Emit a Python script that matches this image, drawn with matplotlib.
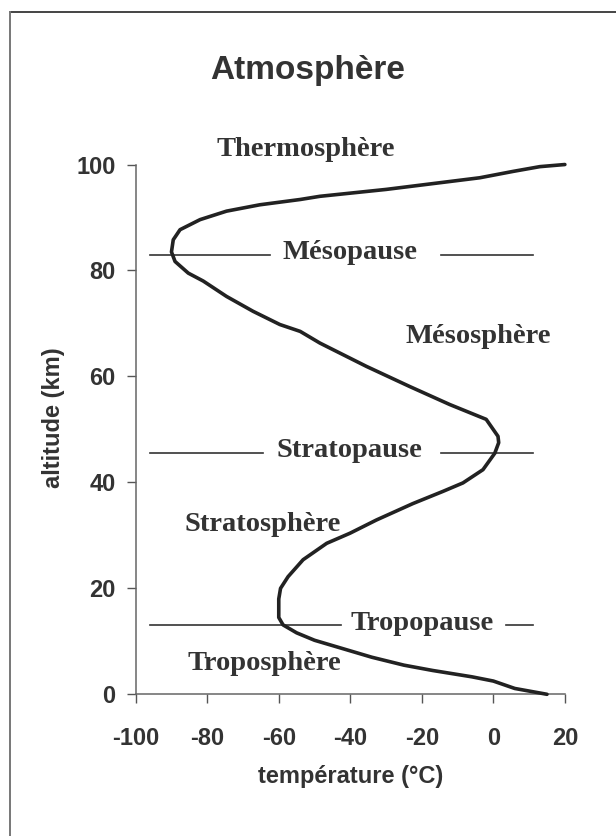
import matplotlib
matplotlib.use("Agg")
import matplotlib.pyplot as plt
from matplotlib.lines import Line2D

# temperature profile (degC) vs altitude (km)
temperature = [15, 6, 0, -6, -17, -25, -34, -42, -50, -55, -58.8, -60, -60, -59.5,
               -57.4, -53.2, -46.6, -40.1, -32.7, -22.5, -14.1, -8.5, -2.9, 0.4, 1.5,
               1.3, -2, -12.2, -23.4, -35.5, -48.5, -54, -59.7, -67.2, -74.6, -81.1,
               -85.3, -89, -90, -89.5, -87.6, -82, -74.6, -65.3, -54, -48.5, -30,
               -3.8, 5.5, 13, 20]
altitude = [0, 1.1, 2.5, 3.3, 4.5, 5.5, 7, 8.6, 10.2, 11.6, 13.1, 14.5, 18, 20,
            22.2, 25.4, 28.5, 30.4, 32.9, 36, 38.3, 39.9, 42.4, 45.5, 47.5,
            48.7, 51.9, 54.7, 58.1, 61.9, 66.3, 68.5, 69.8, 72.3, 75.1, 78,
            79.5, 81.7, 83.5, 85.8, 87.7, 89.6, 91.2, 92.4, 93.4, 94, 95.3,
            97.5, 98.7, 99.6, 100]

# boundaries: name, altitude, left segment, right segment, label x
pause_names = ['Mésopause', 'Stratopause', 'Tropopause']
pause_alt = [83, 45.5, 13]
pause_left = [(-96, -62.5), (-96, -64.4), (-96, -42.5)]
pause_right = [(-14.5, 11), (-14.5, 11), (3.6, 11)]
pause_label_x = [-40.1, -40.1, -19.9]

layer_names = ['Thermosphère', 'Mésosphère', 'Stratosphère', 'Troposphère']
layer_x = [-52.5, -4.3, -64.6, -63.9]
layer_y = [102.8, 67.6, 32, 5.8]

xticks = [-100, -80, -60, -40, -20, 0, 20]
yticks = [0, 20, 40, 60, 80, 100]

sans = ['Liberation Sans', 'DejaVu Sans']
serif = ['Liberation Serif', 'DejaVu Serif']

fig = plt.figure(figsize=(6.16, 8.36), dpi=100)
ax = fig.add_axes([0.2203, 0.1695, 0.917 - 0.2203, 0.8032 - 0.1695])

ax.plot(temperature, altitude, color='#222222', lw=2.6, zorder=3,
        solid_capstyle='round', clip_on=False)

for name, y, left, right, lx in zip(pause_names, pause_alt, pause_left,
                                    pause_right, pause_label_x):
    ax.plot(left, [y, y], color='#333333', lw=1.2, zorder=2)
    ax.plot(right, [y, y], color='#333333', lw=1.2, zorder=2)
    ax.text(lx, y - 0.8, name, ha='center', va='baseline', fontsize=20.5,
            fontweight='bold', family=serif, color='#333333')

for name, x, y in zip(layer_names, layer_x, layer_y):
    ax.text(x, y, name, ha='center', va='center', fontsize=20.5,
            fontweight='bold', family=serif, color='#333333', clip_on=False)

ax.set_xlim(-100, 20)
ax.set_ylim(0, 100)
ax.set_xticks(xticks)
ax.set_yticks(yticks)
ax.set_xticklabels([str(t) for t in xticks], fontsize=17, fontweight='bold',
                   family=sans, color='#333333')
ax.set_yticklabels([str(t) for t in yticks], fontsize=17, fontweight='bold',
                   family=sans, color='#333333')
ax.tick_params(axis='x', direction='out', length=6.5, width=1, color='#555555', pad=17)
ax.tick_params(axis='y', direction='out', length=6.5, width=1, color='#555555', pad=8)

for side in ['top', 'right']:
    ax.spines[side].set_visible(False)
for side in ['left', 'bottom']:
    ax.spines[side].set_color('#666666')
    ax.spines[side].set_linewidth(1.1)

fig.text(0.087, 0.5, 'altitude (km)', rotation=90, ha='center', va='center',
         fontsize=17, fontweight='bold', family=sans, color='#333333')
fig.text(0.57, 1 - 776 / 836, 'température (°C)', ha='center', va='center',
         fontsize=17, fontweight='bold', family=sans, color='#333333')
fig.text(0.5, 1 - 70 / 836, 'Atmosphère', ha='center', va='center',
         fontsize=24, fontweight='bold', family=sans, color='#333333')

# partial frame: top and left edges
fig.add_artist(Line2D([9.5 / 616, 1], [1 - 12 / 836] * 2, transform=fig.transFigure,
                      color='#444444', lw=1.4))
fig.add_artist(Line2D([9.5 / 616] * 2, [0, 1 - 12 / 836], transform=fig.transFigure,
                      color='#777777', lw=1.4))

fig.savefig('out.png', dpi=100)
